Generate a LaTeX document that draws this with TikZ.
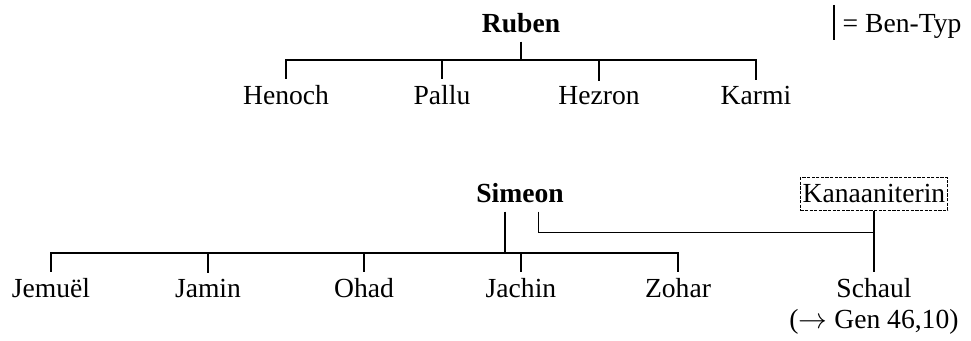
\documentclass[tikz,border=0pt]{standalone}
\usepackage{fontspec}
\setmainfont{Liberation Serif}
\usetikzlibrary{positioning}
\tikzset{
        x=0.5pt, y=-0.5pt, % pixel grid, y runs downwards
        every node/.style={font=\fontsize{13.8}{15.3}\selectfont, anchor=base},
        father/.style={font=\fontsize{13.8}{15.3}\selectfont\bfseries, inner sep=4pt}, % the tribe heads
        son/.style={inner sep=3pt}, % the children
        wife/.style={draw, line width=0.75pt, dash pattern=on 1.6pt off 0.7pt, inner xsep=1.2pt, inner ysep=3.5pt},
        branch/.style={line width=1pt},
        link/.style={line width=0.5pt},
}

\begin{document}
\begin{tikzpicture}
      \useasboundingbox (0,0) rectangle (971,341);
      % Ruben
      \node[father] (ruben) at (521,33) {Ruben};
      \coordinate (rb) at (521,60);
      \node[son] (henoch) at (286,105) {Henoch};
      \node[son] (pallu) at (442,105) {Pallu};
      \node[son] (hezron) at (599,105) {Hezron};
      \node[son] (karmi) at (756,105) {Karmi};
      \draw[branch] (ruben) -- (rb);
      \foreach \kid in {henoch,pallu,hezron,karmi}
         \draw[branch] (rb) -| (\kid);
      % legend
      \node (legend) at (902,33) {= Ben-Typ};
      \draw[branch] (834,5) -- (834,40);
      % Simeon
      \node[father] (simeon) at (520,203) {Simeon};
      \coordinate (sb) at (505,253);
      \coordinate (sk) at (538,233);
      \node[son] (jemuel) at (51,297.5) {Jemuël};
      \node[son] (jamin) at (208,297.5) {Jamin};
      \node[son] (ohad) at (364,297.5) {Ohad};
      \node[son] (jachin) at (521,297.5) {Jachin};
      \node[son] (zohar) at (678,297.5) {Zohar};
      \draw[branch] (simeon.south -| sb) -- (sb);
      \foreach \kid in {jemuel,jamin,ohad,jachin,zohar}
         \draw[branch] (sb) -| (\kid);
      % Schaul
      \node[wife] (kana) at (874,203) {Kanaaniterin};
      \node[son] (schaul) at (874,297.5) {Schaul};
      \node (ref) at (874,328.3) {($\rightarrow$ Gen 46,10)};
      \draw[branch] (kana) -- (schaul);
      \draw[link] (simeon.south -| sk) -- (sk) -- (sk -| kana);
    \end{tikzpicture}
\end{document}
